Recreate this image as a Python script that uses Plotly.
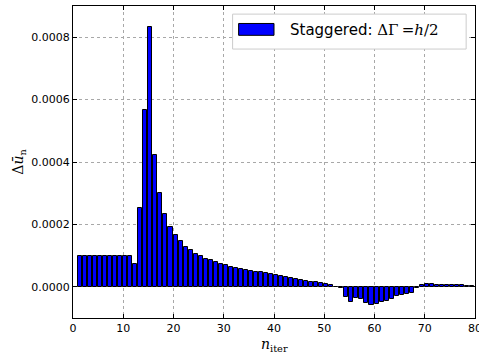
import plotly.graph_objects as go

iterations = list(range(1, 80))
delta_u = [
    0.0001, 0.0001, 0.0001, 0.0001, 0.0001, 0.0001, 0.0001, 0.0001, 0.0001, 0.0001,   # 1-10
    0.0001, 0.000073, 0.000254, 0.000566, 0.000834, 0.000423, 0.000300, 0.000234, 0.000192, 0.000165,  # 11-20
    0.000147, 0.000129, 0.000117, 0.000106, 0.000098, 0.000090, 0.000085, 0.000079, 0.000074, 0.000069,  # 21-30
    0.000064, 0.000061, 0.000057, 0.000054, 0.000051, 0.000048, 0.000046, 0.000043, 0.000041, 0.000038,  # 31-40
    0.000035, 0.000032, 0.000029, 0.000026, 0.000023, 0.000020, 0.000017, 0.000014, 0.000011, 0.000008,  # 41-50
    0.000005, -0.000002, -0.000003, -0.000034, -0.000049, -0.000036, -0.000040, -0.000052, -0.000059, -0.000054,  # 51-60
    -0.000048, -0.000045, -0.000040, -0.000029, -0.000025, -0.000024, -0.000019, -0.000004, 0.000006, 0.000009,  # 61-70
    0.000009, 0.000006, 0.000005, 0.000007, 0.000007, 0.000007, 0.000005, 0.000004, 0.000003,  # 71-79
]
x_ticks = [0, 10, 20, 30, 40, 50, 60, 70, 80]
y_ticks = [0.0, 0.0002, 0.0004, 0.0006, 0.0008]
y_tick_text = ["0.0000", "0.0002", "0.0004", "0.0006", "0.0008"]
legend_label = ('Staggered: <span style="font-family:DejaVu Serif">ΔΓ<span style="font-size:10px"> </span>=<i>h</i>/2</span>')

fig = go.Figure()
fig.add_trace(go.Bar(
    x=[n + 0.4 for n in iterations],
    y=delta_u,
    width=0.8,
    name="Staggered",
    marker=dict(color="#0000ff", line=dict(color="#000000", width=1)),
    showlegend=False,
))

axis_common = dict(
    showline=True, linecolor="black", linewidth=1, mirror="allticks",
    ticks="inside", ticklen=4, tickcolor="black",
    showgrid=True, gridcolor="#a8a8a8", griddash="dot", gridwidth=1,
    zeroline=False, automargin=False, ticklabeloverflow="allow",
    tickfont=dict(family="DejaVu Sans", size=11, color="black"),
)

fig.update_xaxes(range=[0, 80], tickvals=x_ticks, **axis_common)
fig.update_yaxes(range=[-0.0001, 0.0009], tickvals=y_ticks, ticktext=y_tick_text, **axis_common)

# legend drawn in paper coordinates (box, swatch, label)
fig.add_shape(type="rect", xref="paper", yref="paper", x0=0.397, x1=0.978, y0=0.862, y1=0.974,
              line=dict(color="#cccccc", width=1), fillcolor="white", layer="above")
fig.add_shape(type="rect", xref="paper", yref="paper", x0=0.412, x1=0.500, y0=0.906, y1=0.944,
              line=dict(color="black", width=1), fillcolor="#0000ff", layer="above")
fig.add_annotation(xref="paper", yref="paper", x=0.535, y=0.922, xanchor="left", yanchor="middle",
                   text=legend_label, showarrow=False,
                   font=dict(family="DejaVu Sans", size=15, color="black"))

# axis titles
fig.add_annotation(xref="paper", yref="paper", x=0.5, y=-0.05, xanchor="center", yanchor="top",
                   text="<i>n</i><sub>iter</sub>", showarrow=False,
                   font=dict(family="DejaVu Serif", size=14, color="black"))
fig.add_annotation(xref="paper", yref="paper", x=-0.135, y=0.5, xanchor="center", yanchor="middle",
                   text="Δ<i>ū</i><sub>n</sub>", showarrow=False, textangle=-90,
                   font=dict(family="DejaVu Serif", size=14, color="black"))

fig.update_layout(
    width=479, height=354,
    margin=dict(l=73, r=4, t=6, b=36),
    plot_bgcolor="white", paper_bgcolor="white",
    bargap=0,
    showlegend=False,
)

fig.write_html("out.html", config={"displayModeBar": False},
               post_script="document.body.style.margin='0px';")
